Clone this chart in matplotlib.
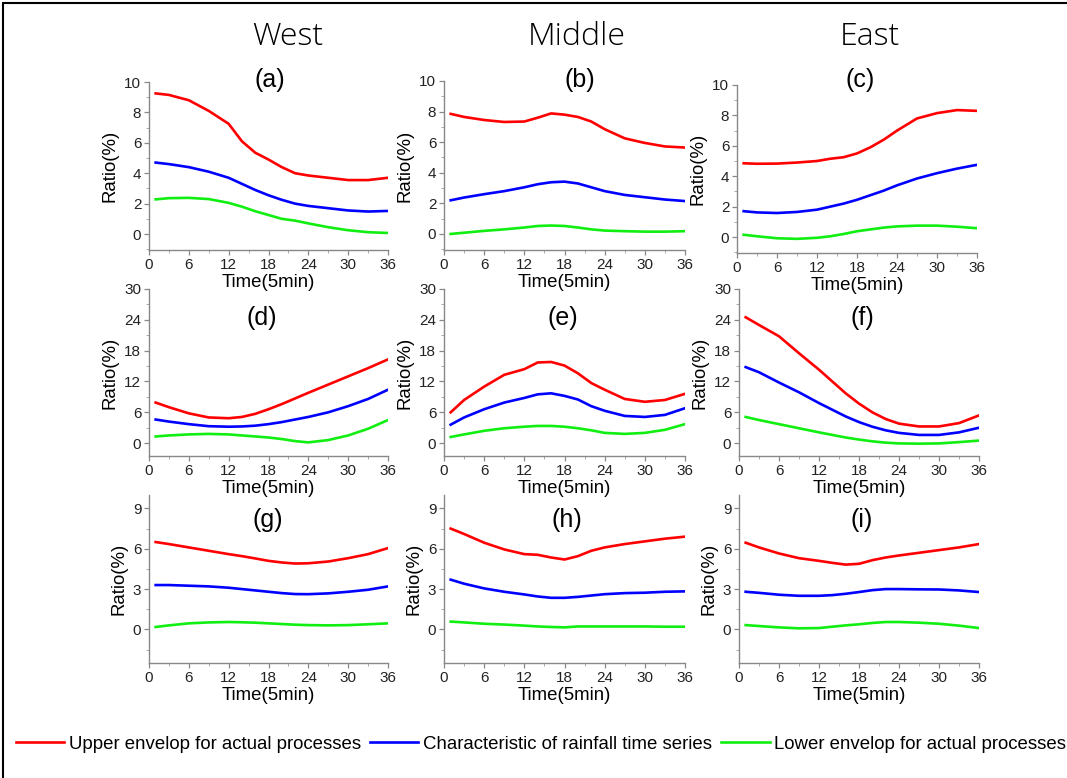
import numpy as np
import matplotlib
matplotlib.use("Agg")
import matplotlib.pyplot as plt
from matplotlib.lines import Line2D
from matplotlib.patches import Rectangle
from matplotlib.ticker import MultipleLocator

plt.rcParams['font.family'] = ['Liberation Sans', 'DejaVu Sans']

# =====================================================
# DATA
# =====================================================

time = [1, 3, 6, 9, 12, 14, 16, 18, 20, 22, 24, 27, 30, 33, 36]

# row 1 - (a) West, (b) Middle, (c) East
a_upper = [9.25, 9.15, 8.8, 8.1, 7.25, 6.1, 5.35, 4.9, 4.4, 4.0, 3.85, 3.7, 3.55, 3.55, 3.7]
a_char = [4.7, 4.6, 4.4, 4.1, 3.7, 3.3, 2.9, 2.55, 2.25, 2.0, 1.85, 1.7, 1.55, 1.48, 1.52]
a_lower = [2.28, 2.36, 2.38, 2.3, 2.05, 1.8, 1.5, 1.25, 1.0, 0.88, 0.7, 0.45, 0.25, 0.12, 0.07]

b_upper = [7.85, 7.65, 7.45, 7.32, 7.35, 7.6, 7.88, 7.8, 7.65, 7.35, 6.85, 6.25, 5.95, 5.72, 5.65]
b_char = [2.2, 2.38, 2.6, 2.8, 3.05, 3.25, 3.38, 3.42, 3.3, 3.05, 2.8, 2.55, 2.4, 2.25, 2.15]
b_lower = [0.0, 0.08, 0.2, 0.3, 0.42, 0.52, 0.55, 0.52, 0.42, 0.3, 0.22, 0.18, 0.15, 0.15, 0.18]

c_upper = [4.85, 4.82, 4.83, 4.9, 5.0, 5.15, 5.25, 5.5, 5.9, 6.4, 7.0, 7.8, 8.15, 8.35, 8.3]
c_char = [1.7, 1.62, 1.58, 1.65, 1.8, 2.0, 2.2, 2.45, 2.75, 3.05, 3.4, 3.85, 4.2, 4.5, 4.75]
c_lower = [0.15, 0.05, -0.08, -0.12, -0.05, 0.05, 0.2, 0.38, 0.5, 0.62, 0.7, 0.75, 0.75, 0.68, 0.58]

# row 2 - (d), (e), (f)
d_upper = [7.9, 7.0, 5.8, 5.0, 4.85, 5.1, 5.7, 6.6, 7.6, 8.7, 9.8, 11.4, 13.0, 14.6, 16.3]
d_char = [4.6, 4.2, 3.7, 3.3, 3.2, 3.25, 3.4, 3.7, 4.1, 4.6, 5.1, 6.0, 7.2, 8.6, 10.4]
d_lower = [1.3, 1.5, 1.7, 1.8, 1.7, 1.5, 1.3, 1.1, 0.8, 0.4, 0.15, 0.6, 1.5, 2.8, 4.5]

e_upper = [6.0, 8.4, 11.0, 13.3, 14.4, 15.7, 15.8, 15.1, 13.6, 11.7, 10.4, 8.6, 8.05, 8.4, 9.6]
e_char = [3.6, 5.0, 6.6, 7.9, 8.8, 9.5, 9.7, 9.2, 8.5, 7.2, 6.3, 5.3, 5.1, 5.5, 6.8]
e_lower = [1.2, 1.7, 2.4, 2.9, 3.2, 3.35, 3.35, 3.2, 2.9, 2.5, 2.0, 1.8, 2.0, 2.6, 3.7]

f_upper = [24.5, 23.0, 20.8, 17.5, 14.3, 12.0, 9.7, 7.7, 6.0, 4.7, 3.8, 3.25, 3.25, 3.9, 5.4]
f_char = [14.8, 13.8, 11.8, 9.9, 7.8, 6.5, 5.2, 4.1, 3.2, 2.5, 2.0, 1.6, 1.6, 2.1, 3.0]
f_lower = [5.1, 4.5, 3.7, 2.9, 2.1, 1.6, 1.1, 0.7, 0.35, 0.1, -0.05, -0.1, -0.05, 0.2, 0.5]

# row 3 - (g), (h), (i)
g_upper = [6.5, 6.35, 6.1, 5.85, 5.6, 5.45, 5.28, 5.1, 4.98, 4.9, 4.92, 5.05, 5.3, 5.6, 6.05]
g_char = [3.3, 3.3, 3.25, 3.2, 3.1, 3.0, 2.9, 2.8, 2.7, 2.63, 2.62, 2.68, 2.8, 2.95, 3.2]
g_lower = [0.18, 0.3, 0.45, 0.52, 0.55, 0.53, 0.5, 0.45, 0.4, 0.35, 0.32, 0.3, 0.32, 0.38, 0.45]

h_upper = [7.5, 7.1, 6.45, 5.95, 5.6, 5.55, 5.35, 5.2, 5.45, 5.85, 6.1, 6.35, 6.55, 6.75, 6.9]
h_char = [3.7, 3.4, 3.05, 2.8, 2.6, 2.45, 2.35, 2.35, 2.42, 2.52, 2.62, 2.7, 2.73, 2.8, 2.83]
h_lower = [0.58, 0.52, 0.42, 0.36, 0.28, 0.22, 0.18, 0.15, 0.22, 0.22, 0.22, 0.22, 0.22, 0.2, 0.2]

i_upper = [6.45, 6.1, 5.65, 5.3, 5.1, 4.95, 4.82, 4.88, 5.15, 5.35, 5.5, 5.7, 5.9, 6.1, 6.35]
i_char = [2.8, 2.72, 2.58, 2.5, 2.5, 2.55, 2.65, 2.78, 2.92, 3.0, 3.0, 2.98, 2.97, 2.9, 2.78]
i_lower = [0.32, 0.25, 0.15, 0.08, 0.1, 0.2, 0.3, 0.38, 0.48, 0.55, 0.55, 0.5, 0.42, 0.28, 0.1]

region_titles = ["West", "Middle", "East"]
panel_labels = ["(a)", "(b)", "(c)", "(d)", "(e)", "(f)", "(g)", "(h)", "(i)"]
series_names = ["Upper envelop for actual processes",
                "Characteristic of rainfall time series",
                "Lower envelop for actual processes"]

panels = [
    (a_upper, a_char, a_lower), (b_upper, b_char, b_lower), (c_upper, c_char, c_lower),
    (d_upper, d_char, d_lower), (e_upper, e_char, e_lower), (f_upper, f_char, f_lower),
    (g_upper, g_char, g_lower), (h_upper, h_char, h_lower), (i_upper, i_char, i_lower),
]

# =====================================================
# LAYOUT
# =====================================================

W, H = 1067, 778
colors = ["#ff0000", "#0000ff", "#11ee11"]

# axes boxes in pixels: left, right, top, bottom
boxes = [
    (149, 388, 82, 250), (444, 685, 81, 250), (737, 977, 85, 253),
    (149, 388, 289, 456), (444, 685, 289, 456), (739, 979, 289, 456),
    (149, 388, 495, 663), (444, 685, 495, 663), (739, 979, 495, 663),
]
row_ylim = [(-1.05, 10), (-2.5, 30), (-2.5, 10)]
row_ystep = [2, 6, 3]
row_ytop = [10, 30, 9]

label_pos = [(270, 80), (580, 80), (860, 80),
             (262, 318), (563, 318), (862, 318),
             (268, 520), (567, 520), (862, 520)]

fig = plt.figure(figsize=(W / 100, H / 100), dpi=100)

for k, (l, r, t, b) in enumerate(boxes):
    row = k // 3
    ax = fig.add_axes([l / W, 1 - b / H, (r - l) / W, (b - t) / H])
    for ys, c in zip(panels[k], colors):
        ax.plot(time, ys, color=c, lw=1.9)
    ax.set_xlim(0, 36)
    ax.set_ylim(*row_ylim[row])
    ax.set_xticks(range(0, 37, 6))
    ax.set_yticks(np.arange(0, row_ytop[row] + 0.1, row_ystep[row]))
    ax.xaxis.set_minor_locator(MultipleLocator(3))
    ax.yaxis.set_minor_locator(MultipleLocator(row_ystep[row] / 2))
    for s in ["top", "right"]:
        ax.spines[s].set_visible(False)
    for s in ["left", "bottom"]:
        ax.spines[s].set_color("#888888")
        ax.spines[s].set_linewidth(1.0)
    ax.tick_params(which="major", length=3.5, width=0.9, color="#888888",
                   labelsize=11, labelcolor="#222222", pad=2)
    ax.tick_params(which="minor", length=2, width=0.7, color="#aaaaaa")
    ax.set_xlabel("Time(5min)", fontsize=13.4, labelpad=2)
    ax.set_ylabel("Ratio(%)", fontsize=13.4, labelpad=4)
    ax.patch.set_alpha(0)

    px, py = label_pos[k]
    fig.text(px / W, 1 - py / H, panel_labels[k], fontsize=18,
             ha="center", va="center")

for name, cx in zip(region_titles, [288, 577, 870]):
    fig.text(cx / W, 1 - 37 / H, name, fontsize=23, ha="center", va="center",
             family=["Open Sans", "DejaVu Sans"], fontweight="light")

# legend along the bottom
handles = [Line2D([], [], color=c, lw=1.9) for c in colors]
fig.legend(handles, series_names, loc="center", bbox_to_anchor=(541 / W, 1 - 744 / H),
           ncol=3, frameon=False, handlelength=2.6, handletextpad=0.25,
           columnspacing=0.5, prop={"size": 13.4})

# outer frame
fig.patches.append(Rectangle((3 / W, -0.05), 1.1, 1.05 - 3 / H, transform=fig.transFigure,
                             fill=False, edgecolor="black", lw=1.5))

fig.savefig("out.png", dpi=100)
